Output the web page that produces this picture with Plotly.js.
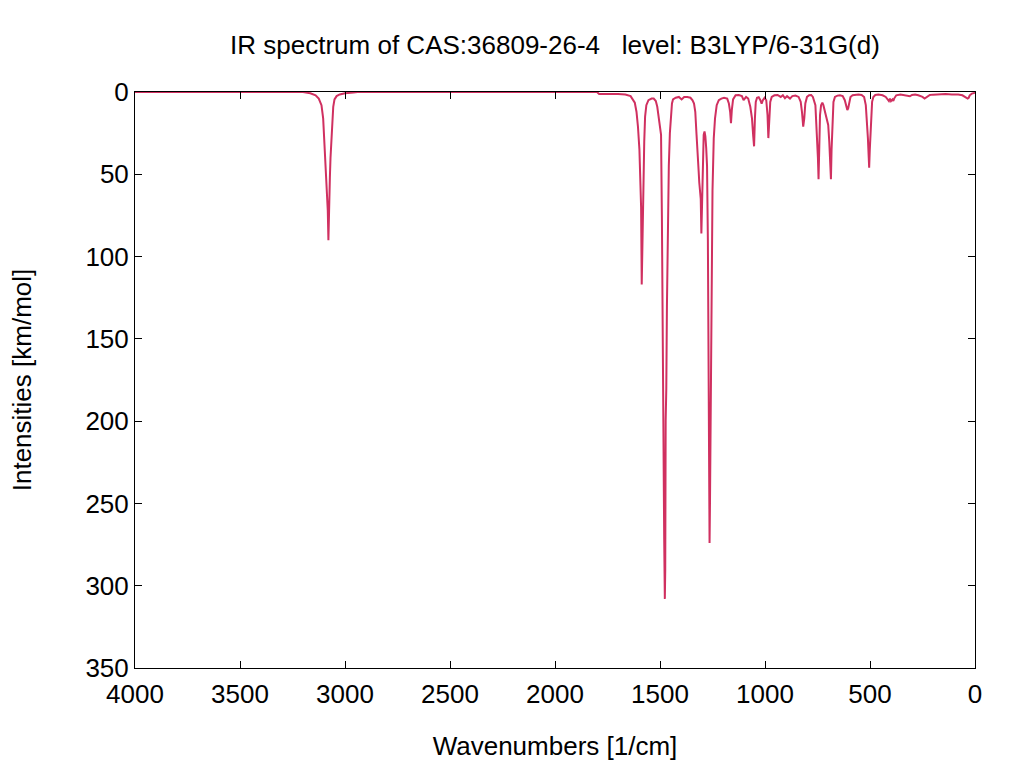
<!DOCTYPE html>
<html>
<head>
<meta charset="utf-8">
<script src="https://cdn.plot.ly/plotly-3.0.1.min.js"></script>
<style>
  html, body { margin: 0; padding: 0; background: #ffffff; }
  #chart { width: 1024px; height: 768px; }
</style>
</head>
<body>
<div id="chart"></div>
<script>
// Spectrum trace (wavenumber in 1/cm, intensity in km/mol)
const wavenumbers = [
  4000, 3200, 3165, 3140, 3125, 3112, 3104, 3098, 3092, 3086, 3082, 3079, 3076, 3072, 3069, 3064, 3060, 3056, 3050, 3040, 3025, 3000, 2960, 2940,
  1800, 1790, 1700, 1665, 1640, 1628, 1620, 1612, 1605, 1598, 1594, 1590, 1587, 1585, 1583, 1581, 1578, 1575, 1571, 1565, 1555, 1540, 1530, 1520, 1513, 1507,
  1500, 1495, 1491, 1488, 1485, 1483, 1480, 1477, 1475, 1473, 1470, 1467, 1465, 1462, 1458, 1453, 1448, 1443, 1438, 1425, 1410, 1397, 1385, 1370, 1355,
  1345, 1338, 1332, 1326, 1320, 1316, 1313, 1310, 1306, 1303, 1300, 1296, 1292, 1288, 1284, 1280, 1276, 1272, 1269, 1266, 1264, 1262, 1260, 1258, 1255,
  1250, 1244, 1238, 1230, 1220, 1208, 1195, 1180, 1172, 1166, 1162, 1158, 1152, 1140, 1125, 1110, 1102, 1090, 1080, 1070, 1062, 1056, 1052, 1048, 1044,
  1038, 1030, 1022, 1016, 1010, 1002, 994, 988, 984, 980, 975, 968, 955, 940, 925, 915, 905, 895, 881, 870, 855, 840, 830, 824, 818, 813, 808, 800,
  790, 780, 772, 760, 752, 748, 745, 742, 738, 733, 727, 722, 716, 710, 704, 699, 694, 689, 686, 683, 679, 674, 667, 655, 643, 630, 620, 613, 608, 604,
  599, 593, 583, 570, 555, 540, 528, 520, 514, 510, 506, 504, 501, 498, 494, 490, 484, 475, 460, 440, 425, 415, 410, 405, 400, 393, 389, 385, 375, 355,
  335, 320, 310, 300, 285, 270, 250, 240, 230, 215, 200, 183, 165, 140, 110, 80, 60, 45, 35, 30, 25, 15, 5, 0
];
const intensities = [
  0, 0, 0.8, 2, 4, 8, 16, 30, 48, 58, 72, 90, 65, 52, 40, 30, 18, 9, 4.5, 2.5, 1.5, 0.8, 0.3, 0,
  0, 1.2, 1.2, 1.5, 2.5, 4.5, 6.5, 12, 21, 35, 50, 70, 117, 100, 92, 95, 60, 30, 15, 8, 5, 4, 4, 5.5, 9, 16,
  20, 26, 75, 130, 200, 265, 272, 308, 290, 200, 180, 130, 100, 70, 45, 25, 12, 7, 4.5, 3.5, 3, 4.5, 3, 3, 3.5,
  5, 7, 12, 26, 36, 48, 55, 58, 65, 86, 62, 38, 26, 24, 27, 34, 45, 90, 160, 245, 274, 250, 215, 170, 110,
  60, 28, 16, 8, 5, 4, 3.5, 4, 7, 12, 19, 11, 4.5, 2, 1.8, 2.5, 5, 3, 4, 9, 16, 27, 33, 16, 6,
  3.5, 3.2, 5, 7, 5, 3.5, 5, 14, 28, 14, 6, 3, 2, 1.8, 3, 2, 3.8, 2.5, 4, 2.5, 2.2, 3, 6, 12, 21, 16, 7, 3,
  2, 1.8, 3, 8, 25, 40, 53, 35, 14, 8, 6.5, 8, 11, 14, 18, 20, 30, 45, 53, 35, 16, 6, 3, 2.2, 2, 2.5, 5, 9, 11, 10,
  6, 3, 2, 1.6, 1.5, 1.8, 3, 8, 18, 28, 40, 46, 35, 24, 12, 6, 3, 1.8, 1.6, 2, 3, 4.5, 5.5, 4, 5.5, 4.5, 5.5, 4, 2, 1.5,
  2, 2.5, 2.6, 1.8, 1.5, 2, 3, 4, 3, 1.8, 1.6, 1.5, 1.2, 1.2, 1.5, 1.5, 2, 3, 4, 3.5, 2, 1, 0.5, 0.5
];
const xTickValues = [4000, 3500, 3000, 2500, 2000, 1500, 1000, 500, 0];
const yTickValues = [0, 50, 100, 150, 200, 250, 300, 350];

const chartTitle = 'IR spectrum of CAS:36809-26-4\u00a0\u00a0\u00a0level: B3LYP/6-31G(d)';
const xTitle = 'Wavenumbers [1/cm]';
const yTitle = 'Intensities [km/mol]';

const fontFamily = '"Liberation Sans", Arial, sans-serif';

const trace = {
  x: wavenumbers,
  y: intensities,
  type: 'scatter',
  mode: 'lines',
  line: { color: 'rgb(208,48,96)', width: 2 },
  hoverinfo: 'skip',
  showlegend: false
};

const layout = {
  width: 1024,
  height: 768,
  paper_bgcolor: '#ffffff',
  plot_bgcolor: '#ffffff',
  margin: { l: 135, r: 49, t: 92, b: 100, pad: 0 },
  font: { family: fontFamily, size: 26, color: '#000000' },
  title: {
    text: chartTitle,
    font: { family: fontFamily, size: 26, color: '#000000' },
    x: 555 / 1024,
    xanchor: 'center',
    xref: 'container',
    y: 1 - 45 / 768,
    yanchor: 'middle',
    yref: 'container'
  },
  xaxis: {
    range: [4000, 0],
    tickmode: 'array',
    tickvals: xTickValues,
    ticktext: xTickValues.map(String),
    ticks: 'inside',
    ticklen: 7,
    tickwidth: 1,
    tickcolor: '#000000',
    ticklabelstandoff: 3,
    showline: true,
    linecolor: '#000000',
    linewidth: 1,
    mirror: 'allticks',
    showgrid: false,
    zeroline: false,
    tickfont: { family: fontFamily, size: 26, color: '#000000' },
    title: { text: xTitle, font: { family: fontFamily, size: 26, color: '#000000' }, standoff: 28 }
  },
  yaxis: {
    range: [350, 0],
    tickmode: 'array',
    tickvals: yTickValues,
    ticktext: yTickValues.map(String),
    ticks: 'inside',
    ticklen: 7,
    tickwidth: 1,
    tickcolor: '#000000',
    showline: true,
    linecolor: '#000000',
    linewidth: 1,
    mirror: 'allticks',
    showgrid: false,
    zeroline: false,
    tickfont: { family: fontFamily, size: 26, color: '#000000' },
    title: { text: yTitle, font: { family: fontFamily, size: 26, color: '#000000' }, standoff: 46 }
  }
};

Plotly.newPlot('chart', [trace], layout, { displayModeBar: false, staticPlot: true });
</script>
</body>
</html>
